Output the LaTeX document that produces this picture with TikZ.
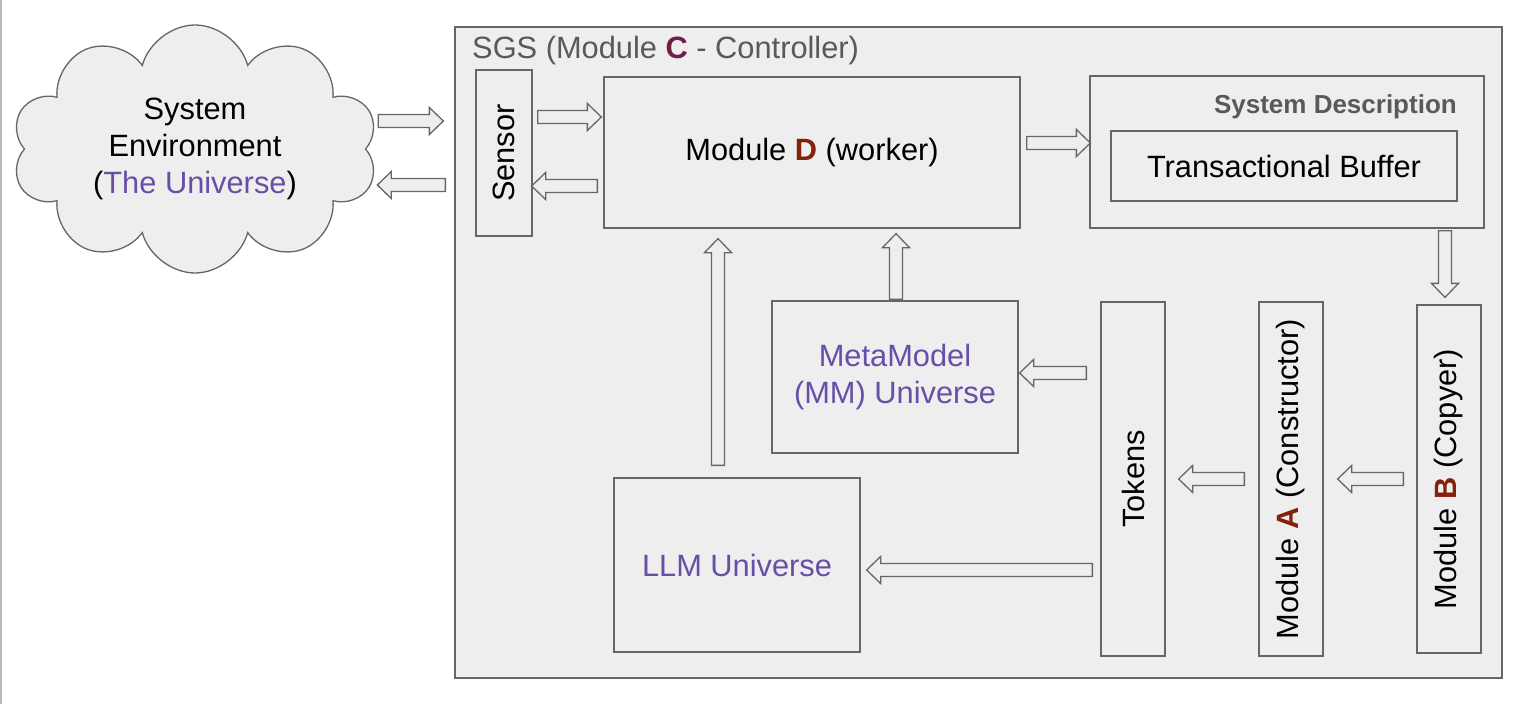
\documentclass[tikz,border=0pt]{standalone}
\usepackage{fontspec}
\setmainfont{Liberation Sans}
\usepackage{graphicx}
\definecolor{boxfill}{RGB}{238, 238, 238}
\definecolor{linegray}{RGB}{102, 102, 102}
\definecolor{titlegray}{RGB}{89, 89, 89}
\definecolor{univpurple}{RGB}{103, 78, 167}
\definecolor{modred}{RGB}{133, 32, 12}
\definecolor{ctrlplum}{RGB}{116, 27, 71}
\usetikzlibrary{shapes.symbols, calc}

\begin{document}
\begin{tikzpicture}[x=1pt, y=-1pt,
    box/.style={draw=linegray, fill=boxfill, line width=1.3pt, align=center, inner sep=0pt,
      font={\fontsize{30.8}{37}\selectfont}},
    barrow/.style={draw=linegray, fill=boxfill, line width=1.3pt,
      to path={let \p1=(\tikztostart), \p2=(\tikztotarget),
        \n1={atan2(\y2-\y1,\x2-\x1)}, \n2={veclen(\x2-\x1,\y2-\y1)} in
        [shift={(\p1)}, rotate=\n1]
        (0pt,-6.5pt) -- ({\n2-14pt},-6.5pt) -- ({\n2-14pt},-13.5pt) -- (\n2,0pt)
        -- ({\n2-14pt},13.5pt) -- ({\n2-14pt},6.5pt) -- (0pt,6.5pt) -- cycle}}]
  \useasboundingbox (0,0) rectangle (1525,704);
  \draw[linegray!45, line width=1.5pt] (1,0) -- (1,704);

  % Environment
  \node[cloud, cloud puffs=10, cloud ignores aspect, draw=linegray, fill=boxfill, line width=1.3pt,
    align=center, minimum width=366pt, minimum height=248pt, inner sep=0pt,
    font={\fontsize{30.8}{37}\selectfont}] (env) at (195,149)
    {System\\Environment\\(\textcolor{univpurple}{The Universe})};

  % SGS frame
  \node[box, minimum width=1047pt, minimum height=651pt] (sgs) at (978.5,352.5) {};
  \node[anchor=base west, inner sep=0pt, text=titlegray, font={\fontsize{30.8}{37}\selectfont}]
    (sgstitle) at (472,58) {SGS (Module \textbf{\textcolor{ctrlplum}{C}} - Controller)};

  % Top row
  \node[box, minimum width=56pt, minimum height=166pt] (sensor) at (504,153) {\rotatebox{90}{Sensor}};
  \node[box, minimum width=416pt, minimum height=151pt] (modD) at (812,152.5)
    {Module \textbf{\textcolor{modred}{D}} (worker)};
  \node[box, minimum width=394pt, minimum height=152pt] (sysdesc) at (1287,152) {};
  \node[anchor=base east, inner sep=0pt, text=titlegray, font={\bfseries\fontsize{26}{30}\selectfont}]
    (sysdesctitle) at (1457,113) {System Description};
  \node[box, minimum width=346pt, minimum height=70pt] (buffer) at (1284,166) {Transactional Buffer};

  % Universes
  \node[box, text=univpurple, minimum width=246pt, minimum height=152pt] (mm) at (895,377)
    {MetaModel\\(MM) Universe};
  \node[box, text=univpurple, minimum width=246pt, minimum height=174pt] (llm) at (737,565)
    {LLM Universe};

  % Modules
  \node[box, minimum width=64pt, minimum height=354pt] (tokens) at (1133,479) {\rotatebox{90}{Tokens}};
  \node[box, minimum width=64pt, minimum height=354pt] (modA) at (1291,479)
    {\rotatebox{90}{Module \textbf{\textcolor{modred}{A}} (Constructor)}};
  \node[box, minimum width=64pt, minimum height=348pt] (modB) at (1449,479)
    {\rotatebox{90}{Module \textbf{\textcolor{modred}{B}} (Copyer)}};

  % Block arrows
  \draw[barrow] ([shift={(12,-28)}]env.east) to ([shift={(-32,-32)}]sensor.west);
  \draw[barrow] ([shift={(-30,32)}]sensor.west) to ([shift={(11,36)}]env.east);
  \draw[barrow] ([shift={(5,-36)}]sensor.east) to ([shift={(-2,-35.5)}]modD.west);
  \draw[barrow] ([shift={(-6,33.5)}]modD.west) to ([shift={(-1,33)}]sensor.east);
  \draw[barrow] ([shift={(6,-9.5)}]modD.east) to ([shift={(1,-9)}]sysdesc.west);
  \draw[barrow] ([shift={(158,2)}]sysdesc.south) to ([shift={(-4,-7)}]modB.north);
  \draw[barrow] ([shift={(-13,0)}]modB.west) to ([shift={(14,0)}]modA.east);
  \draw[barrow] ([shift={(-14,0)}]modA.west) to ([shift={(13,0)}]tokens.east);
  \draw[barrow] ([shift={(-14,-106)}]tokens.west) to ([shift={(1,-4)}]mm.east);
  \draw[barrow] ([shift={(-8,91)}]tokens.west) to ([shift={(6,5)}]llm.east);
  \draw[barrow] ([shift={(-19,-12)}]llm.north) to ([shift={(-94,10)}]modD.south);
  \draw[barrow] ([shift={(1,-1)}]mm.north) to ([shift={(84,5)}]modD.south);
\end{tikzpicture}
\end{document}
